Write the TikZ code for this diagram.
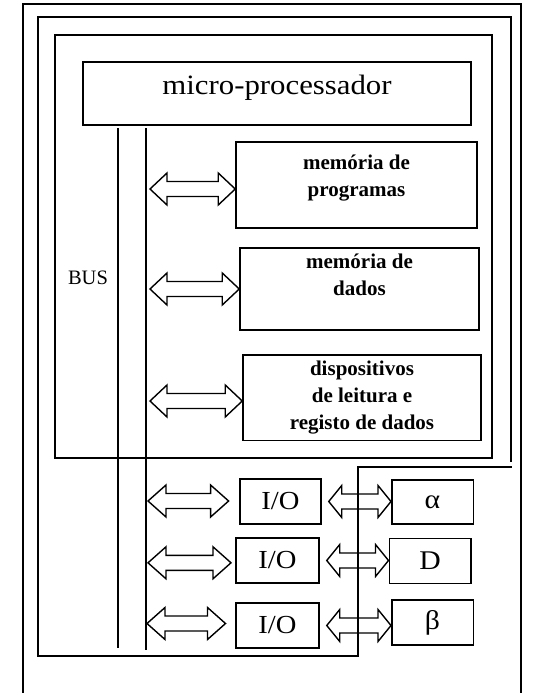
\documentclass[tikz,border=0pt]{standalone}
\usepackage{fontspec}
\setmainfont{Liberation Serif}
\newfontfamily\widefont[FakeStretch=1.1]{Liberation Serif}
\usetikzlibrary{positioning}
\usetikzlibrary{calc}

\tikzset{
  box/.style={draw, line width=1.5pt, inner sep=0pt},
  frame/.style={line width=1.4pt},
  memtxt/.style={font=\fontsize{21}{27}\selectfont\bfseries, align=center, inner sep=0pt},
  iotxt/.style={font=\widefont\fontsize{26}{30}\selectfont},
  devtxt/.style={font=\widefont\fontsize{27}{30}\selectfont},
  arr/.style={line width=1.4pt, line join=miter},
}
% hollow double arrow, y of the first point, head length #3
\newcommand{\dblarrow}[3]{%
  \draw[arr] let \p1=(#1), \p2=(#2) in
    (\x1,\y1) -- (\x1+#3,\y1+16pt) -- (\x1+#3,\y1+7.5pt) -- (\x2-#3,\y1+7.5pt)
    -- (\x2-#3,\y1+16pt) -- (\x2,\y1) -- (\x2-#3,\y1-16pt) -- (\x2-#3,\y1-7.5pt)
    -- (\x1+#3,\y1-7.5pt) -- (\x1+#3,\y1-16pt) -- cycle;}

\begin{document}
\begin{tikzpicture}[x=1pt, y=-1pt]
\fill[white] (0,0) rectangle (533,693);
\useasboundingbox (0,0) rectangle (533,693);

% frames
\draw[frame] (23,693) -- (23,4) -- (521,4) -- (521,693);
\draw[frame] (511,462) -- (511,17) -- (38,17) -- (38,656) -- (358,656) -- (358,467) -- (512,467);
\draw[line width=2.2pt] (55,35) rectangle (492,458);

% processor
\node[box, minimum width=388pt, minimum height=63pt] (micro) at (277,93.3) {};
\node[anchor=base, font=\widefont\fontsize{28}{32}\selectfont] (microtxt) at (277,94) {micro-processador};

% bus
\coordinate (bus1) at (118,128);
\coordinate (bus1end) at (118,648);
\coordinate (bus2) at (146,128);
\coordinate (bus2end) at (146,650);
\draw[line width=1.8pt] (bus1) -- (bus1end);
\draw[line width=1.6pt] (bus2) -- (bus2end);
\node[anchor=base, font=\fontsize{20.5}{24}\selectfont] (buslbl) at (88,284) {BUS};

% memories
\node[box, minimum width=241pt, minimum height=86pt] (prog) at (356.5,185) {};
\node[memtxt, below=13pt of prog.north] (progtxt) {memória de\\programas};
\node[box, minimum width=239pt, minimum height=82pt] (dados) at (359.5,289) {};
\node[memtxt, below=6pt of dados.north] (dadostxt) {memória de\\dados};
\node[box, minimum width=238pt, minimum height=85.5pt] (disp) at (362,397.75) {};
\node[memtxt, below=6pt of disp.north] (disptxt) {dispositivos\\de leitura e\\registo de dados};

\coordinate (a1) at (150,189);
\coordinate (a2) at (150,289);
\coordinate (a3) at (150,401);
\dblarrow{a1}{prog.west}{17pt}
\dblarrow{a2}{dados.west}{17pt}
\dblarrow{a3}{disp.west}{17pt}

% I/O ports
\node[box, iotxt, minimum width=81pt, minimum height=45pt] (io1) at (280.5,501.5) {I/O};
\node[box, iotxt, minimum width=83pt, minimum height=45pt] (io2) at (277.5,560.5) {I/O};
\node[box, iotxt, minimum width=83pt, minimum height=45pt] (io3) at (277.5,625.5) {I/O};

\node[box, devtxt, minimum width=81.5pt, minimum height=44pt] (alpha) at (432.5,502) {α};
\node[box, devtxt, minimum width=81.5pt, minimum height=45pt] (dev) at (430,560.8) {D};
\node[box, devtxt, minimum width=81.5pt, minimum height=45pt] (beta) at (432.5,622.5) {β};

\coordinate (c1) at (148,501);
\coordinate (c1end) at (228.6,501);
\coordinate (c2) at (148,562.8);
\coordinate (c2end) at (231,562.8);
\coordinate (c3) at (147,623.5);
\coordinate (c3end) at (225.5,623.5);
\dblarrow{c1}{c1end}{18pt}
\dblarrow{c2}{c2end}{18pt}
\dblarrow{c3}{c3end}{18pt}

\dblarrow{[xshift=7pt]io1.east}{alpha.west}{13pt}
\dblarrow{[xshift=7pt]io2.east}{dev.west}{13pt}
\dblarrow{[xshift=7pt]io3.east}{beta.west}{13pt}
\end{tikzpicture}
\end{document}
